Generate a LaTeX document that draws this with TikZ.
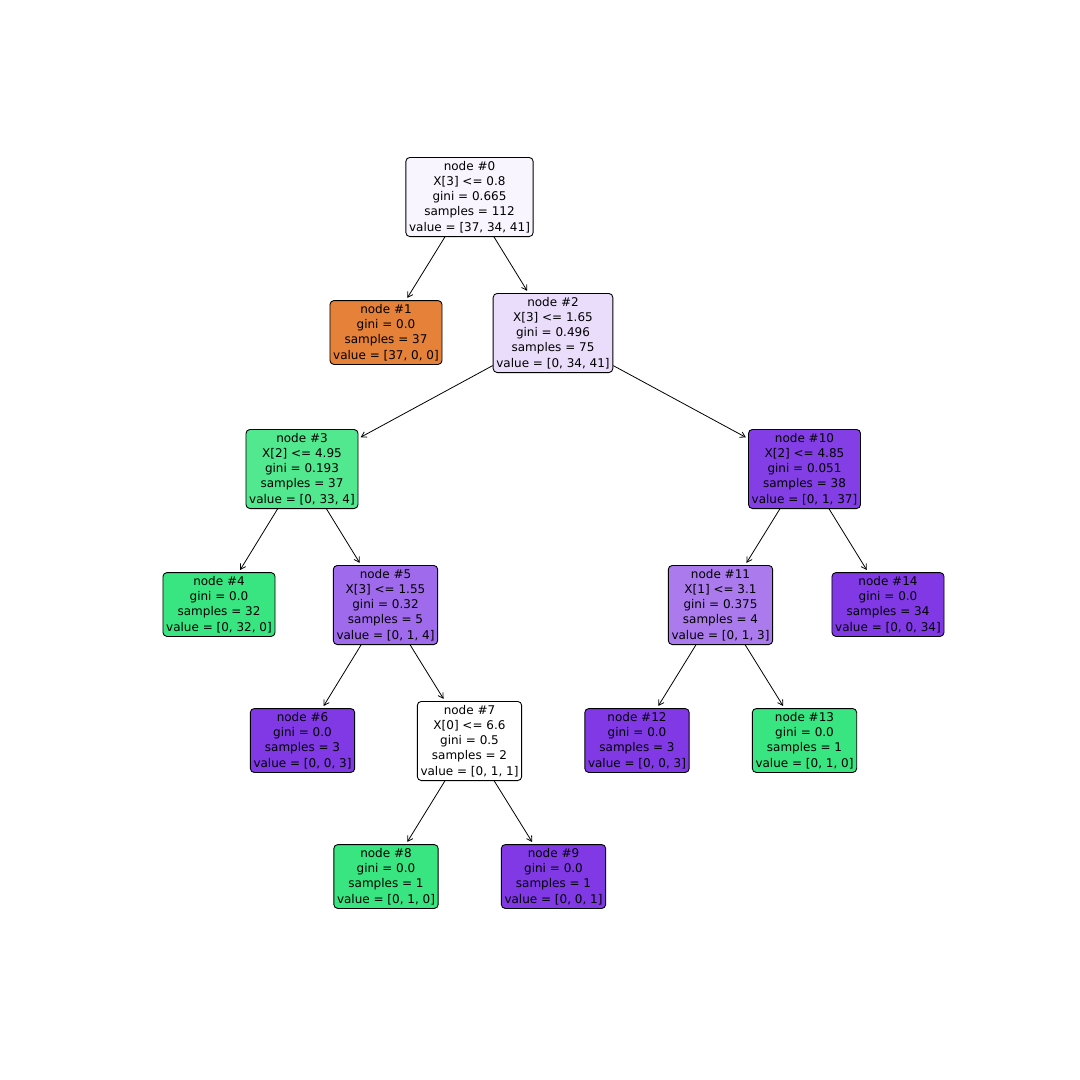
\documentclass[tikz,border=0pt]{standalone}
\usepackage{fontspec}
\setmainfont{DejaVu Sans}
\usetikzlibrary{arrows.meta}
\definecolor{c0}{RGB}{248,245,254}
\definecolor{corange}{RGB}{229,129,57}
\definecolor{c2}{RGB}{234,221,251}
\definecolor{c3}{RGB}{81,232,144}
\definecolor{cgreen}{RGB}{57,229,129}
\definecolor{c5}{RGB}{160,106,236}
\definecolor{cpurple}{RGB}{129,57,229}
\definecolor{c10}{RGB}{132,62,230}
\definecolor{c11}{RGB}{171,123,238}
\tikzset{
  tnode/.style={draw=black, line width=0.9pt, rounded corners=4pt, align=center,
    font=\fontsize{12}{15.2}\selectfont, inner xsep=3.2pt, inner ysep=3.8pt},
  edge/.style={line width=0.8pt, -{Straight Barb[length=5pt,width=6pt]}, shorten >=2.5pt}
}
\begin{document}
\begin{tikzpicture}[x=1pt,y=-1pt]
\useasboundingbox[fill=white] (0,0) rectangle (1080,1080);
\node[tnode, fill=c0] (n0) at (469.5,197) {node \#0\\X[3] <= 0.8\\gini = 0.665\\samples = 112\\value = [37, 34, 41]};
\node[tnode, fill=corange] (n1) at (386,332.5) {node \#1\\gini = 0.0\\samples = 37\\value = [37, 0, 0]};
\node[tnode, fill=c2] (n2) at (553,333) {node \#2\\X[3] <= 1.65\\gini = 0.496\\samples = 75\\value = [0, 34, 41]};
\node[tnode, fill=c3] (n3) at (302,469) {node \#3\\X[2] <= 4.95\\gini = 0.193\\samples = 37\\value = [0, 33, 4]};
\node[tnode, fill=c10] (n10) at (804.5,469) {node \#10\\X[2] <= 4.85\\gini = 0.051\\samples = 38\\value = [0, 1, 37]};
\node[tnode, fill=cgreen] (n4) at (219,604.5) {node \#4\\gini = 0.0\\samples = 32\\value = [0, 32, 0]};
\node[tnode, fill=c5] (n5) at (385.5,605) {node \#5\\X[3] <= 1.55\\gini = 0.32\\samples = 5\\value = [0, 1, 4]};
\node[tnode, fill=c11] (n11) at (720.5,605) {node \#11\\X[1] <= 3.1\\gini = 0.375\\samples = 4\\value = [0, 1, 3]};
\node[tnode, fill=cpurple] (n14) at (888,604.5) {node \#14\\gini = 0.0\\samples = 34\\value = [0, 0, 34]};
\node[tnode, fill=cpurple] (n6) at (302.5,740.5) {node \#6\\gini = 0.0\\samples = 3\\value = [0, 0, 3]};
\node[tnode, fill=white] (n7) at (469.5,741) {node \#7\\X[0] <= 6.6\\gini = 0.5\\samples = 2\\value = [0, 1, 1]};
\node[tnode, fill=cpurple] (n12) at (637,740.5) {node \#12\\gini = 0.0\\samples = 3\\value = [0, 0, 3]};
\node[tnode, fill=cgreen] (n13) at (804.5,740.5) {node \#13\\gini = 0.0\\samples = 1\\value = [0, 1, 0]};
\node[tnode, fill=cgreen] (n8) at (386,876.5) {node \#8\\gini = 0.0\\samples = 1\\value = [0, 1, 0]};
\node[tnode, fill=cpurple] (n9) at (553.5,876.5) {node \#9\\gini = 0.0\\samples = 1\\value = [0, 0, 1]};
\draw[edge] (n0) -- (n1);
\draw[edge] (n0) -- (n2);
\draw[edge] (n2) -- (n3);
\draw[edge] (n2) -- (n10);
\draw[edge] (n3) -- (n4);
\draw[edge] (n3) -- (n5);
\draw[edge] (n5) -- (n6);
\draw[edge] (n5) -- (n7);
\draw[edge] (n7) -- (n8);
\draw[edge] (n7) -- (n9);
\draw[edge] (n10) -- (n11);
\draw[edge] (n10) -- (n14);
\draw[edge] (n11) -- (n12);
\draw[edge] (n11) -- (n13);
\end{tikzpicture}
\end{document}
